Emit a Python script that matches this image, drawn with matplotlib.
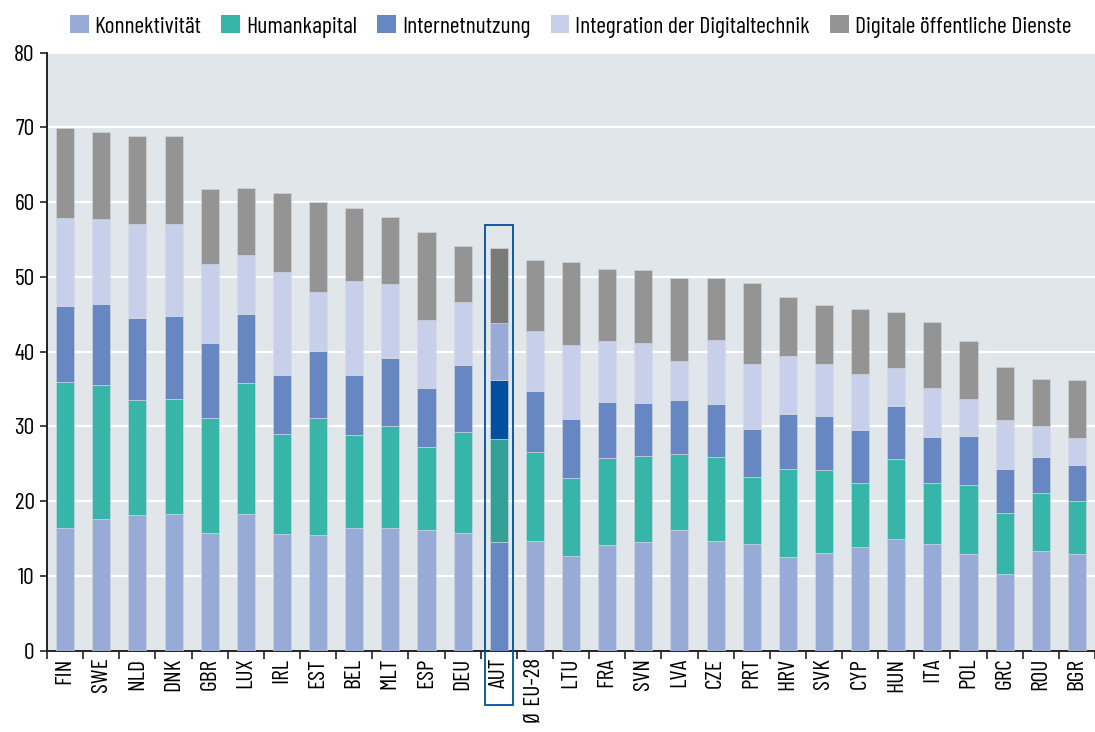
import numpy as np
import matplotlib
matplotlib.use("Agg")
import matplotlib.pyplot as plt
from matplotlib.patches import Rectangle

plt.rcParams['font.family'] = ['Barlow Condensed', 'DejaVu Sans']

# Data (DESI-Indexwerte je Dimension)
countries = ["FIN", "SWE", "NLD", "DNK", "GBR", "LUX", "IRL", "EST", "BEL", "MLT",
             "ESP", "DEU", "AUT", "Ø EU-28", "LTU", "FRA", "SVN", "LVA", "CZE", "PRT",
             "HRV", "SVK", "CYP", "HUN", "ITA", "POL", "GRC", "ROU", "BGR"]
konnektivitaet = [16.4, 17.6, 18.1, 18.3, 15.8, 18.3, 15.6, 15.5, 16.4, 16.4,
                  16.2, 15.8, 14.5, 14.7, 12.7, 14.1, 14.6, 16.2, 14.7, 14.3,
                  12.5, 13.1, 13.9, 15.0, 14.3, 13.0, 10.2, 13.3, 12.9]
humankapital = [19.5, 17.9, 15.5, 15.4, 15.4, 17.5, 13.4, 15.6, 12.5, 13.7,
                11.1, 13.5, 13.8, 11.9, 10.4, 11.7, 11.5, 10.1, 11.2, 8.9,
                11.8, 11.1, 8.6, 10.6, 8.2, 9.2, 8.2, 7.8, 7.1]
internetnutzung = [10.2, 10.9, 10.9, 11.1, 10.0, 9.3, 7.9, 9.0, 8.0, 9.0,
                   7.9, 8.9, 7.9, 8.1, 7.9, 7.5, 7.0, 7.3, 7.1, 6.5,
                   7.4, 7.2, 7.0, 7.2, 6.1, 6.5, 5.9, 4.8, 4.8]
integration = [11.8, 11.4, 12.6, 12.3, 10.5, 7.9, 13.7, 7.9, 12.5, 9.9,
               9.1, 8.4, 7.6, 8.1, 9.9, 8.1, 8.1, 5.2, 8.6, 8.7,
               7.7, 6.9, 7.5, 5.0, 6.5, 5.0, 6.6, 4.1, 3.6]
oeffentlich = [12.0, 11.6, 11.7, 11.7, 10.1, 8.9, 10.6, 12.0, 9.8, 9.0,
               11.7, 7.6, 10.1, 9.5, 11.1, 9.7, 9.7, 11.1, 8.3, 10.8,
               7.9, 8.0, 8.7, 7.5, 8.9, 7.8, 7.0, 6.4, 7.8]

series = [konnektivitaet, humankapital, internetnutzung, integration, oeffentlich]
labels = ["Konnektivität", "Humankapital", "Internetnutzung",
          "Integration der Digitaltechnik", "Digitale öffentliche Dienste"]
colors = ["#98ABD6", "#36B5A8", "#6787C2", "#C7CFEA", "#939493"]
aut_colors = ["#6787C2", "#33A196", "#0050A0", "#98ABD6", "#7A7B78"]
highlight = "AUT"

fig = plt.figure(figsize=(10.95, 7.32), dpi=100)
ax = fig.add_axes([0.043, 0.111, 0.957, 0.817])
ax.set_facecolor("#E1E6EA")

x = np.arange(len(countries))
bottom = np.zeros(len(countries))
hi = countries.index(highlight)
for vals, lab, col, acol in zip(series, labels, colors, aut_colors):
    vals = np.array(vals)
    cols = [acol if i == hi else col for i in range(len(countries))]
    ax.bar(x, vals, width=0.5, bottom=bottom, color=cols, label=lab,
           edgecolor="#D5DAE3", linewidth=0.4, zorder=3)
    bottom += vals

# highlight frame around AUT
total_aut = bottom[hi]
ax.add_patch(Rectangle((hi - 0.38, -7.3), 0.76, total_aut + 3.0 + 7.3,
                       fill=False, edgecolor="#0050A0", linewidth=1.3,
                       clip_on=False, zorder=4))

ax.set_xlim(-0.5, len(countries) - 0.5)
ax.set_ylim(0, 80)
ax.set_yticks(np.arange(0, 81, 10))
ax.yaxis.grid(True, color="white", linewidth=1.6, zorder=0)
ax.set_axisbelow(True)

ax.set_xticks(x)
ax.set_xticklabels(countries, rotation=90, fontsize=17)
ax.set_xticks(np.arange(-0.5, len(countries), 1), minor=True)
ax.tick_params(axis="x", which="major", length=0, pad=5)
ax.tick_params(axis="x", which="minor", length=6, width=1.2, color="#222222")
ax.tick_params(axis="y", labelsize=17, length=5, width=1.2, color="#222222", pad=4)

for s in ["top", "right"]:
    ax.spines[s].set_visible(False)
for s in ["left", "bottom"]:
    ax.spines[s].set_color("#222222")
    ax.spines[s].set_linewidth(1.4)

handles, labs = ax.get_legend_handles_labels()
leg = fig.legend(handles, labs, loc="upper center", bbox_to_anchor=(0.521, 1.008),
                 ncol=5, frameon=False, fontsize=17, handlelength=0.8,
                 handleheight=0.8, handletextpad=0.25, columnspacing=0.85)
for i, h in enumerate(leg.legend_handles):
    h.set_facecolor(colors[i])
    h.set_edgecolor("none")

fig.savefig("out.png", dpi=100)
